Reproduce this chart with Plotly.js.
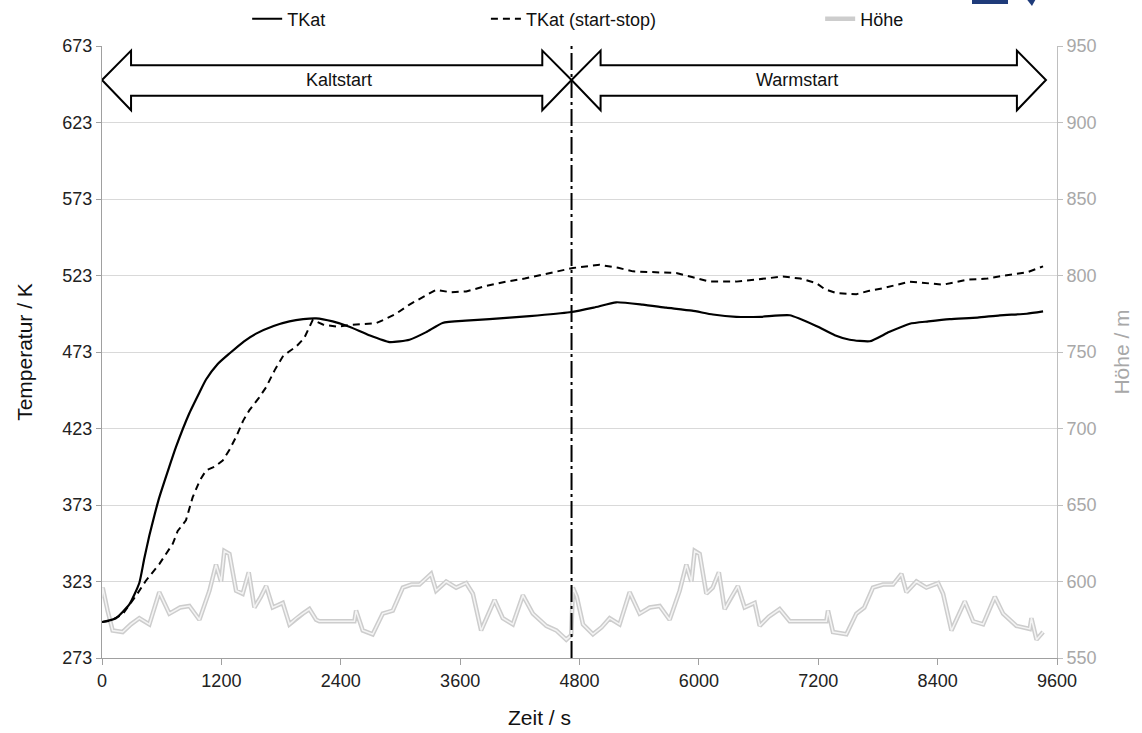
<!DOCTYPE html>
<html><head><meta charset="utf-8">
<script src="https://cdn.plot.ly/plotly-3.0.1.min.js"></script>
<style>html,body{margin:0;padding:0;background:#fff}#chart{width:1142px;height:733px}</style>
</head><body><div id="chart"></div>
<script>
// ---- data ----
const xTicks = [0, 1200, 2400, 3600, 4800, 6000, 7200, 8400, 9600];
const tempTicks = [273, 323, 373, 423, 473, 523, 573, 623, 673];

const tkatTime = [0,140,275,375,425,476,526,576,666,744,878,983,1046,1161,1281,1428,1549,1725,1884,2022,2152,2319,2487,2685,2890,3091,3259,3423,3655,3895,4298,4700,4942,5169,5436,5672,5931,6141,6376,6624,6913,7181,7366,7517,7718,7911,8120,8306,8522,8801,9025,9296,9460];
const tkatValues = [296.5,299,308,322,338,353,366,378,396,411,433,447,455,465,472,480,485,490,493,494.5,495,493,489.5,484,479.5,481,486,492,493.5,494.5,496.5,499,502,505.5,504,502,500,497.5,496,496,497,490,484,481,480,486,491.5,493,494.5,495.5,497,498,499.5];

const tkatSSTime = [0,92,208,341,441,576,711,761,844,911,983,1046,1131,1213,1280,1348,1418,1482,1577,1650,1735,1817,1874,1951,2032,2119,2220,2368,2487,2616,2755,2863,2956,3091,3225,3359,3506,3661,3853,4062,4249,4499,4734,5002,5189,5337,5535,5773,5931,6108,6376,6624,6845,7020,7181,7267,7382,7583,7713,7851,8120,8455,8690,8900,9058,9296,9460];
const tkatSSValues = [296.5,297.5,301.7,313.6,323.5,334.4,347.6,356,363,378,389,395.6,398,402,409,417.5,428,435,443,450,461,470,473,476.5,482,494,491,489.5,490.7,491,491.8,495,498,504,509,513.7,512,512.6,516,519,521,524.6,527.9,530,528,525.7,525,524.6,522,519,519,521,522.3,521,518,514,511.5,510.8,513,514.7,519,517,520.2,521,522.8,525,529];

const hoeheKaltTime = [0,7,56,107,208,290,375,476,576,677,785,878,979,1080,1146,1197,1230,1281,1348,1414,1475,1532,1596,1650,1716,1817,1884,1953,2018,2085,2152,2185,2537,2554,2621,2721,2822,2923,3024,3111,3191,3308,3359,3460,3560,3661,3728,3811,3946,4029,4130,4231,4331,4466,4567,4667,4717];
const hoeheKaltValues = [590,596,581,568,567,572,576,572,593,579,583,584,575,594,611,600,620,618,594,592,606,583,590,597,583,586,572,576,579,582,575,574,574,581,568,565.5,579,581,596,598,598,605,594,600,596,599,592,568,588,576,572,591,579,571,568,562,565];
const hoeheWarmTime = [4734,4773,4835,4935,5021,5103,5203,5304,5404,5506,5606,5706,5807,5874,5925,5958,6008,6075,6139,6201,6259,6327,6392,6460,6561,6611,6703,6812,6913,7281,7298,7348,7483,7583,7663,7750,7851,7952,8036,8086,8187,8287,8405,8455,8539,8673,8757,8857,8975,9058,9192,9326,9343,9394,9460];
const hoeheWarmValues = [596,590,572,565.5,570,576,572,593,579,583,584,575,594,611,600,620,618,592,596,606,582,590,597,583,586,571,577,582,574,574,581,567,565.5,579,583,596,598,598,605,593,600,596,599,592,568,587,574,572,590,579,571,569,576,562,567];

const phaseLabels = ['Kaltstart', 'Warmstart'];
const phaseSwitch = 4720;

// ---- chart ----
const FONT = 'Liberation Sans, Arial, sans-serif';
const hoeheTime = hoeheKaltTime.concat(hoeheWarmTime);
const hoeheValues = hoeheKaltValues.concat(hoeheWarmValues);

const traces = [
  {x: hoeheTime, y: hoeheValues, yaxis: 'y', name: 'Höhe', legend: 'legend3', mode: 'lines',
   line: {color: '#cdcdcd', width: 4.5}},
  {x: hoeheTime, y: hoeheValues, yaxis: 'y', showlegend: false, hoverinfo: 'skip', mode: 'lines',
   line: {color: '#f4f4f4', width: 1.5}},
  {x: tkatTime, y: tkatValues, yaxis: 'y2', name: 'TKat', legend: 'legend', mode: 'lines',
   line: {color: '#000', width: 2.2, shape: 'spline', smoothing: 0.5}},
  {x: tkatSSTime, y: tkatSSValues, yaxis: 'y2', name: 'TKat (start-stop)', legend: 'legend2', mode: 'lines',
   line: {color: '#000', width: 2, dash: '7px,5px'}}
];

function arrowPath(x0, hb0, hb1, x1) {
  const tip = 650.8, top = 670, bot = 631, st = 660.5, sb = 640.5;
  return `M${x0},${tip} L${hb0},${top} L${hb0},${st} L${hb1},${st} L${hb1},${top} L${x1},${tip} L${hb1},${bot} L${hb1},${sb} L${hb0},${sb} L${hb0},${bot} Z`;
}

const legendBase = {orientation: 'h', y: 1.044, yanchor: 'middle', xanchor: 'left',
  bgcolor: 'rgba(0,0,0,0)', font: {family: FONT, size: 18, color: '#111'}};

const layout = {
  width: 1142, height: 733,
  margin: {l: 102, r: 85, t: 46, b: 75, autoexpand: false},
  paper_bgcolor: '#fff', plot_bgcolor: '#fff',
  font: {family: FONT, size: 18, color: '#222'},
  showlegend: true,
  legend: Object.assign({}, legendBase, {x: 0.152}),
  legend2: Object.assign({}, legendBase, {x: 0.402}),
  legend3: Object.assign({}, legendBase, {x: 0.752}),
  xaxis: {range: [0, 9600], tickvals: xTicks, ticktext: xTicks.map(String),
    showline: true, linecolor: '#a0a0a0', linewidth: 1, ticks: 'outside', ticklen: 6, tickcolor: '#a0a0a0',
    showgrid: false, zeroline: false, tickfont: {family: FONT, size: 18, color: '#222'}},
  yaxis: {side: 'right', range: [550, 950], tick0: 550, dtick: 50,
    showgrid: true, gridcolor: '#d9d9d9', gridwidth: 1, zeroline: false,
    showline: true, linecolor: '#bfbfbf', ticks: 'outside', ticklen: 5, tickcolor: '#bfbfbf',
    tickfont: {family: FONT, size: 18, color: '#a8a8a8'},
    title: {text: 'Höhe / m', standoff: 18, font: {family: FONT, size: 21, color: '#a8a8a8'}}},
  yaxis2: {overlaying: 'y', side: 'left', range: [273, 673], tickvals: tempTicks, ticktext: tempTicks.map(String),
    showgrid: false, zeroline: false, showline: true, linecolor: '#a0a0a0', ticks: 'outside', ticklen: 5, tickcolor: '#a0a0a0',
    tickfont: {family: FONT, size: 18, color: '#222'},
    title: {text: 'Temperatur / K', standoff: 24, font: {family: FONT, size: 21, color: '#111'}}},
  shapes: [
    {type: 'line', xref: 'x', yref: 'paper', x0: phaseSwitch, x1: phaseSwitch, y0: 0, y1: 1,
     line: {color: '#000', width: 2, dash: '17px,4px,3px,4px'}, layer: 'above'},
    {type: 'path', xref: 'x', yref: 'y2', path: arrowPath(0, 292, 4426, phaseSwitch),
     fillcolor: '#fff', line: {color: '#000', width: 2}, layer: 'above'},
    {type: 'path', xref: 'x', yref: 'y2', path: arrowPath(phaseSwitch, 5012, 9197, 9489),
     fillcolor: '#fff', line: {color: '#000', width: 2}, layer: 'above'},
    {type: 'rect', xref: 'paper', yref: 'paper', x0: 0.911, x1: 0.9487, y0: 1.0686, y1: 1.08,
     fillcolor: '#1f3b7a', line: {width: 0}},
    {type: 'path', xref: 'paper', yref: 'paper', path: 'M0.9665,1.08 L0.979,1.08 L0.9738,1.0654 Z',
     fillcolor: '#1f3b7a', line: {width: 0}}
  ],
  annotations: [
    {xref: 'x', yref: 'y2', x: 2387, y: 650.8, text: phaseLabels[0], showarrow: false,
     font: {family: FONT, size: 18, color: '#111'}},
    {xref: 'x', yref: 'y2', x: 6984, y: 650.8, text: phaseLabels[1], showarrow: false,
     font: {family: FONT, size: 18, color: '#111'}},
    {xref: 'paper', yref: 'paper', x: 0.4586, y: -0.098, text: 'Zeit / s', showarrow: false,
     xanchor: 'center', yanchor: 'middle', font: {family: FONT, size: 21, color: '#111'}}
  ]
};

Plotly.newPlot('chart', traces, layout, {displayModeBar: false, staticPlot: true});
</script>
</body></html>
